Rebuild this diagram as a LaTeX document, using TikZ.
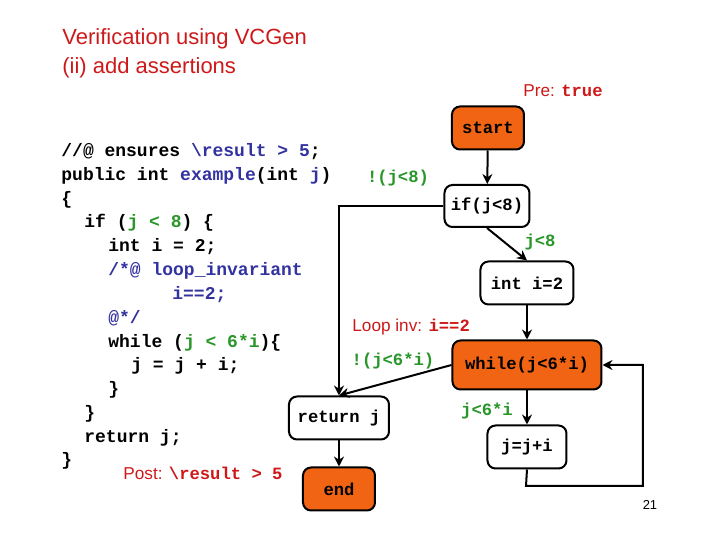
\documentclass[tikz,border=0pt]{standalone}
\usepackage{fontspec}
\setmainfont{Liberation Sans}
\newfontfamily\codefont{Liberation Mono}
\usetikzlibrary{arrows.meta}
\definecolor{kwblue}{RGB}{50,50,160}
\definecolor{cgreen}{RGB}{40,150,40}
\definecolor{ared}{RGB}{205,25,25}
\definecolor{borange}{RGB}{240,100,20}
\newcommand{\kb}[1]{\textcolor{kwblue}{#1}}
\newcommand{\cg}[1]{\textcolor{cgreen}{#1}}
\tikzset{
  box/.style={draw,line width=1pt,rounded corners=4pt,inner sep=0pt,font=\codefont\bfseries\fontsize{8.6}{10}\selectfont},
  hot/.style={box,fill=borange},
  code/.style={anchor=base west,inner sep=0pt,font=\codefont\bfseries\fontsize{9}{11}\selectfont},
  edge/.style={green!60!black,font=\codefont\bfseries\fontsize{8.6}{10}\selectfont,text=cgreen},
  note/.style={text=ared,font=\fontsize{8.6}{10}\selectfont},
  flow/.style={line width=1pt,-{Stealth[length=5pt,width=5pt]}}
}
\begin{document}
\begin{tikzpicture}[x=0.5pt,y=-0.5pt]
  \useasboundingbox (0,0) rectangle (720,540);

  % Title
  \node[anchor=base west,inner sep=0pt,text=ared,font=\fontsize{11}{13}\selectfont] (t1) at (62,45) {Verification using VCGen};
  \node[anchor=base west,inner sep=0pt,text=ared,font=\fontsize{11}{13}\selectfont] (t2) at (62,74) {(ii) add assertions};

  % Code
  \node[code] (c1) at (61,157) {//@ ensures \kb{\textbackslash result > 5};};
  \node[code] (c2) at (61,181) {public int \kb{example}(int \kb{j})};
  \node[code] (c3) at (61,205) {\{};
  \node[code] (c4) at (84,228) {if (\cg{j < 8}) \{};
  \node[code] (c5) at (108,252) {int i = 2;};
  \node[code] (c6) at (108,276) {\kb{/*@ loop\_invariant}};
  \node[code] (c7) at (172,300) {\kb{i==2;}};
  \node[code] (c8) at (108,324) {\kb{@*/}};
  \node[code] (c9) at (108,348) {while (\cg{j < 6*i})\{};
  \node[code] (c10) at (131,371) {j = j + i;};
  \node[code] (c11) at (108,395) {\}};
  \node[code] (c12) at (84,419) {\}};
  \node[code] (c13) at (84,443) {return j;};
  \node[code] (c14) at (61,466) {\}};

  % Flow graph
  \node[hot,minimum width=36pt,minimum height=21.5pt] (start) at (488,128) {start};
  \node[box,minimum width=42.5pt,minimum height=21pt] (ifj) at (487,206) {if(j<8)};
  \node[box,minimum width=46.5pt,minimum height=21.5pt] (inti) at (527,283) {int i=2};
  \node[hot,minimum width=74.5pt,minimum height=24.5pt] (loop) at (527,365) {while(j<6*i)};
  \node[box,minimum width=39.5pt,minimum height=21.5pt] (body) at (527,447) {j=j+i};
  \node[box,minimum width=50pt,minimum height=21.5pt] (ret) at (339,418) {return j};
  \node[hot,minimum width=36pt,minimum height=21.5pt] (end) at (339,489) {end};
  \coordinate (lb) at (526,486);
  \coordinate (lr) at (643,486);

  \draw[flow] (start) -- (ifj);
  \draw[flow] (ifj.south) -- (inti.north);
  \draw[flow] (inti) -- (loop);
  \draw[flow] (loop) -- (body);
  \draw[flow] (ifj.west) -| (ret.north);
  \draw[flow] (loop.west) -- (ret.north);
  \draw[flow] (ret) -- (end);
  \draw[flow] (body.south) -- (lb) -- (lr) |- (loop.east);

  % Edge labels
  \node[edge] (l1) at (398,178) {!(j<8)};
  \node[edge] (l2) at (540,242) {j<8};
  \node[edge] (l3) at (393,361) {!(j<6*i)};
  \node[edge] (l4) at (487,411) {j<6*i};

  % Assertions
  \node[note,anchor=base west,inner sep=0pt] (pre) at (523,97) {Pre: {\codefont\bfseries true}};
  \node[note,anchor=base west,inner sep=0pt] (inv) at (352,332) {Loop inv: {\codefont\bfseries i==2}};
  \node[note,anchor=base west,inner sep=0pt] (post) at (123,480) {Post: {\codefont\bfseries\textbackslash result > 5}};
  \node[font=\fontsize{6.5}{8}\selectfont] (pg) at (650,505) {21};
\end{tikzpicture}
\end{document}
